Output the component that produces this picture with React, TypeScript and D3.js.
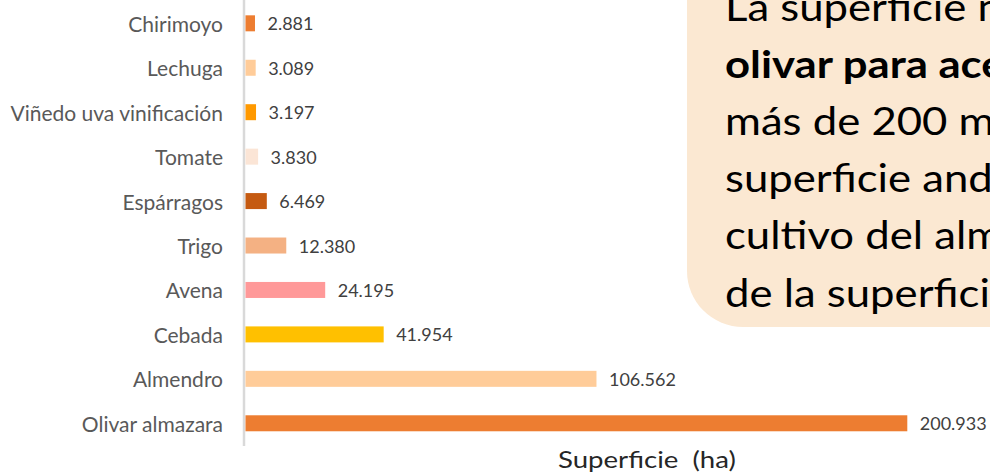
import React from "react";
import * as d3 from "d3";

const categories = [
  "Chirimoyo",
  "Lechuga",
  "Viñedo uva vinificación",
  "Tomate",
  "Espárragos",
  "Trigo",
  "Avena",
  "Cebada",
  "Almendro",
  "Olivar almazara",
];
const values = [2881, 3089, 3197, 3830, 6469, 12380, 24195, 41954, 106562, 200933];
const valueLabels = ["2.881", "3.089", "3.197", "3.830", "6.469", "12.380", "24.195", "41.954", "106.562", "200.933"];
const barColors = [
  "#ED7D31",
  "#FFCC99",
  "#FF9900",
  "#FBE5D6",
  "#C55A11",
  "#F4B183",
  "#FF9999",
  "#FFC000",
  "#FFCC99",
  "#ED7D31",
];
const boxLines = [
  { text: "La superficie nacional", bold: false },
  { text: "olivar para aceite", bold: true },
  { text: "más de 200 mil", bold: false },
  { text: "superficie andaluza", bold: false },
  { text: "cultivo del almendro", bold: false },
  { text: "de la superficie", bold: false },
];
const axisTitle = "Superficie\u00a0\u00a0(ha)";

const W = 990;
const H = 474;
const FONT = "Lato, 'Open Sans', sans-serif";

export default function App() {
  const x0 = 245.5;
  const x = d3.scaleLinear().domain([0, 200933]).range([x0, 907.3]);
  const y = d3.scaleBand<string>().domain(categories).range([1.1, 445.5]).paddingInner(0.64).paddingOuter(0.32);
  const bh = y.bandwidth();

  return (
    <svg
      width={W}
      height={H}
      style={{ position: "absolute", left: 0, top: 0, display: "block", background: "#fff" }}
      fontFamily={FONT}
    >
      <rect width={W} height={H} fill="#fff" />
      {/* text box */}
      <rect x={687} y={-80} width={400} height={407} rx={56} ry={56} fill="#FBE8D2" />
      {boxLines.map((l, i) => (
        <text
          key={i}
          transform={`translate(725,${21 + i * 57.1}) scale(1.12,1)`}
          fontSize={39}
          fontWeight={l.bold ? 700 : 400}
          fill="#000"
        >
          {l.text}
        </text>
      ))}
      {/* axis line */}
      <line x1={244} x2={244} y1={0} y2={446} stroke="#D9D9D9" strokeWidth={2.5} />
      {categories.map((c, i) => {
        const yc = (y(c) as number) + bh / 2;
        return (
          <g key={c}>
            <text x={223} y={yc} textAnchor="end" dominantBaseline="central" fontSize={21} fill="#595959">
              {c}
            </text>
            <rect x={x0} y={y(c) as number} width={x(values[i]) - x0} height={bh} fill={barColors[i]} />
            <text x={x(values[i]) + 12.5} y={yc} dominantBaseline="central" fontSize={18} fill="#404040">
              {valueLabels[i]}
            </text>
          </g>
        );
      })}
      <text transform="translate(558,468) scale(1.15,1)" fontSize={24} fill="#262626">
        {axisTitle}
      </text>
    </svg>
  );
}
